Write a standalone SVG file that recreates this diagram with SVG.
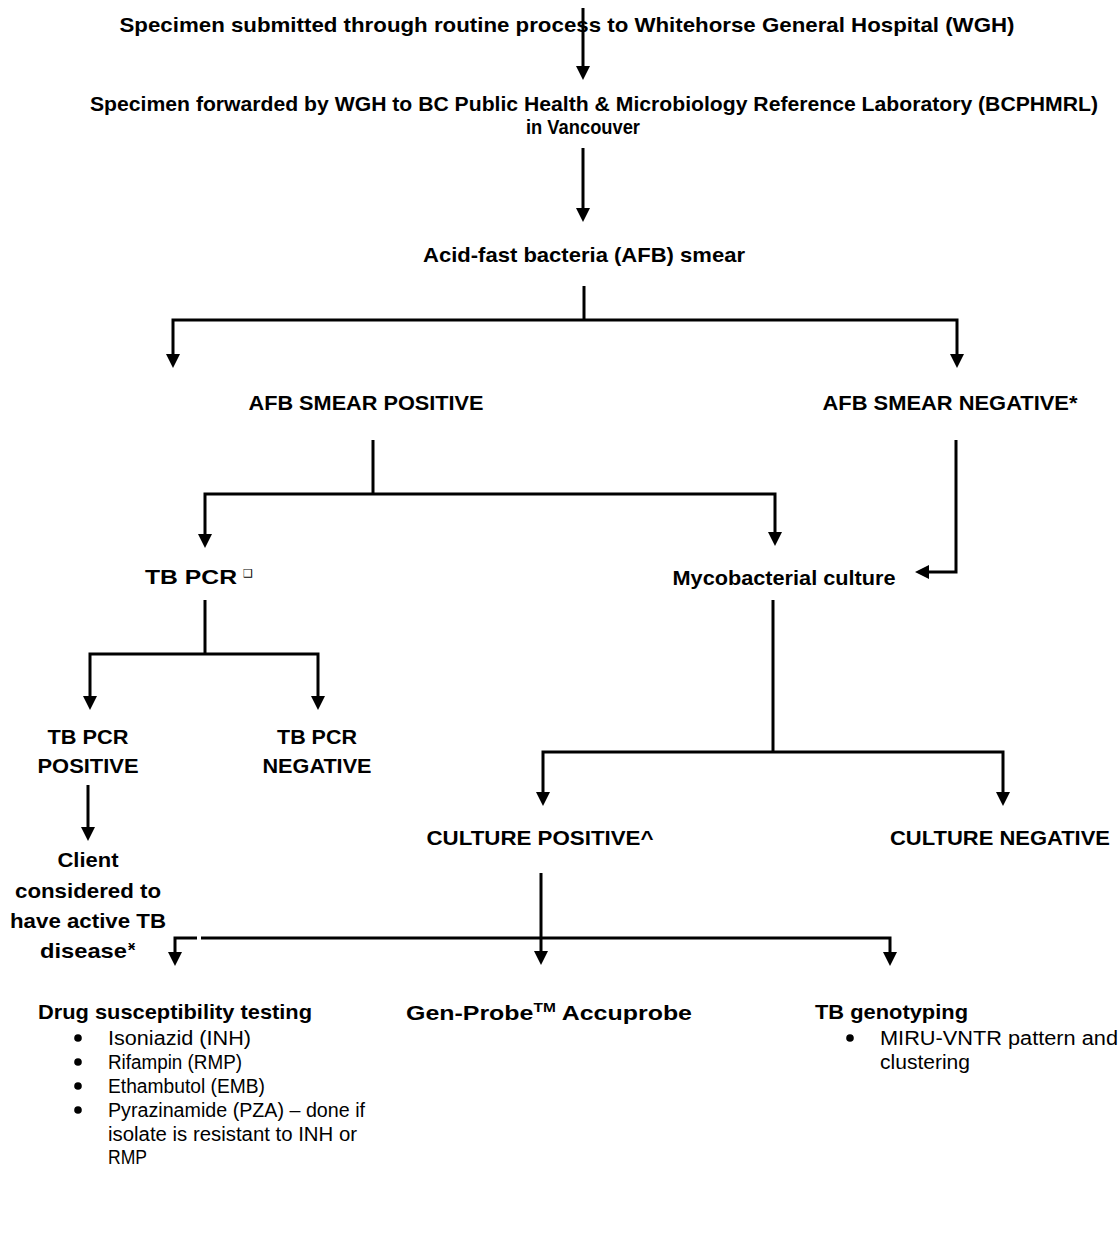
<svg xmlns="http://www.w3.org/2000/svg" width="1120" height="1240" viewBox="0 0 1120 1240">
<defs>
<style>
text{font-family:"Liberation Sans",Arial,"DejaVu Sans",sans-serif;fill:#000}
.b{font-weight:bold;font-size:21px}
.r{font-weight:normal;font-size:20px}
.c{text-anchor:middle}
.ln{fill:none;stroke:#000;stroke-width:3}
.ar{fill:none;stroke:#000;stroke-width:3;marker-end:url(#ah)}
</style>
<marker id="ah" markerUnits="userSpaceOnUse" markerWidth="14" markerHeight="16" refX="6" refY="7" orient="auto">
<path d="M0,0 L14,7 L0,14 z" fill="#000"/>
</marker>
</defs>
<rect width="1120" height="1240" fill="#fff"/>
<g id="connectors">
<path class="ar" d="M583,8 V72"/>
<path class="ar" d="M583,148 V214"/>
<path class="ln" d="M584,286 V320"/>
<path class="ar" d="M584,320 H173 V360"/>
<path class="ar" d="M584,320 H957 V360"/>
<path class="ln" d="M373,440 V494"/>
<path class="ar" d="M373,494 H205 V540"/>
<path class="ar" d="M373,494 H775 V538"/>
<path class="ar" d="M956,440 V572 H923"/>
<path class="ln" d="M205,600 V654"/>
<path class="ar" d="M205,654 H90 V702"/>
<path class="ar" d="M205,654 H318 V702"/>
<path class="ln" d="M773,600 V752"/>
<path class="ar" d="M773,752 H543 V798"/>
<path class="ar" d="M773,752 H1003 V798"/>
<path class="ar" d="M88,785 V833"/>
<path class="ar" d="M541,873 V957"/>
<path class="ln" d="M541,938 H201"/>
<path class="ar" d="M197,938 H175 V958"/>
<path class="ar" d="M541,938 H890 V958"/>
</g>
<g id="n-submitted"><text class="b c" x="567" y="32" textLength="895" lengthAdjust="spacingAndGlyphs">Specimen submitted through routine process to Whitehorse General Hospital (WGH)</text></g>
<g id="n-forwarded">
<text class="b c" x="594" y="111" textLength="1008" lengthAdjust="spacingAndGlyphs">Specimen forwarded by WGH to BC Public Health &amp; Microbiology Reference Laboratory (BCPHMRL)</text>
<text class="b c" x="583" y="134" textLength="114" lengthAdjust="spacingAndGlyphs">in Vancouver</text>
</g>
<g id="n-afb"><text class="b c" x="584" y="262" textLength="322" lengthAdjust="spacingAndGlyphs">Acid-fast bacteria (AFB) smear</text></g>
<g id="n-afb-pos"><text class="b c" x="366" y="410" textLength="235" lengthAdjust="spacingAndGlyphs">AFB SMEAR POSITIVE</text></g>
<g id="n-afb-neg"><text class="b c" x="950" y="410" textLength="255" lengthAdjust="spacingAndGlyphs">AFB SMEAR NEGATIVE*</text></g>
<g id="n-tbpcr">
<text class="b c" x="191" y="584" textLength="92" lengthAdjust="spacingAndGlyphs">TB PCR</text>
<text x="248" y="577" style="font-family:'DejaVu Sans',sans-serif;font-size:11px" text-anchor="middle">❑</text>
</g>
<g id="n-culture"><text class="b c" x="784" y="585" textLength="223" lengthAdjust="spacingAndGlyphs">Mycobacterial culture</text></g>
<g id="n-pcr-pos">
<text class="b c" x="88" y="744" textLength="81" lengthAdjust="spacingAndGlyphs">TB PCR</text>
<text class="b c" x="88" y="773" textLength="101" lengthAdjust="spacingAndGlyphs">POSITIVE</text>
</g>
<g id="n-pcr-neg">
<text class="b c" x="317" y="744" textLength="80" lengthAdjust="spacingAndGlyphs">TB PCR</text>
<text class="b c" x="317" y="773" textLength="109" lengthAdjust="spacingAndGlyphs">NEGATIVE</text>
</g>
<g id="n-cult-pos"><text class="b c" x="540" y="845" textLength="227" lengthAdjust="spacingAndGlyphs">CULTURE POSITIVE^</text></g>
<g id="n-cult-neg"><text class="b c" x="1000" y="845" textLength="220" lengthAdjust="spacingAndGlyphs">CULTURE NEGATIVE</text></g>
<g id="n-client">
<text class="b c" x="88" y="867" textLength="61" lengthAdjust="spacingAndGlyphs">Client</text>
<text class="b c" x="88" y="898" textLength="146" lengthAdjust="spacingAndGlyphs">considered to</text>
<text class="b c" x="88" y="928" textLength="156" lengthAdjust="spacingAndGlyphs">have active TB</text>
<text class="b" x="40" y="958" textLength="87" lengthAdjust="spacingAndGlyphs">disease</text>
<text class="b" x="128" y="950" style="font-size:13px">ӿ</text>
</g>
<g id="n-dst">
<text class="b" x="38" y="1019" textLength="274" lengthAdjust="spacingAndGlyphs">Drug susceptibility testing</text>
<circle cx="78" cy="1038" r="3.8"/>
<circle cx="78" cy="1062" r="3.8"/>
<circle cx="78" cy="1086" r="3.8"/>
<circle cx="78" cy="1110" r="3.8"/>
<text class="r" x="108" y="1045" textLength="143" lengthAdjust="spacingAndGlyphs">Isoniazid (INH)</text>
<text class="r" x="108" y="1069" textLength="134" lengthAdjust="spacingAndGlyphs">Rifampin (RMP)</text>
<text class="r" x="108" y="1093" textLength="157" lengthAdjust="spacingAndGlyphs">Ethambutol (EMB)</text>
<text class="r" x="108" y="1117" textLength="257" lengthAdjust="spacingAndGlyphs">Pyrazinamide (PZA) – done if</text>
<text class="r" x="108" y="1141" textLength="249" lengthAdjust="spacingAndGlyphs">isolate is resistant to INH or</text>
<text class="r" x="108" y="1164" textLength="39" lengthAdjust="spacingAndGlyphs">RMP</text>
</g>
<g id="n-genprobe">
<text class="b" x="406" y="1020" textLength="286" lengthAdjust="spacingAndGlyphs">Gen-Probe<tspan dy="-8" style="font-size:13px">TM</tspan><tspan dy="8"> Accuprobe</tspan></text>
</g>
<g id="n-genotyping">
<text class="b" x="815" y="1019" textLength="153" lengthAdjust="spacingAndGlyphs">TB genotyping</text>
<circle cx="850" cy="1038" r="3.8"/>
<text class="r" x="880" y="1045" textLength="238" lengthAdjust="spacingAndGlyphs">MIRU-VNTR pattern and</text>
<text class="r" x="880" y="1069" textLength="90" lengthAdjust="spacingAndGlyphs">clustering</text>
</g>
</svg>
